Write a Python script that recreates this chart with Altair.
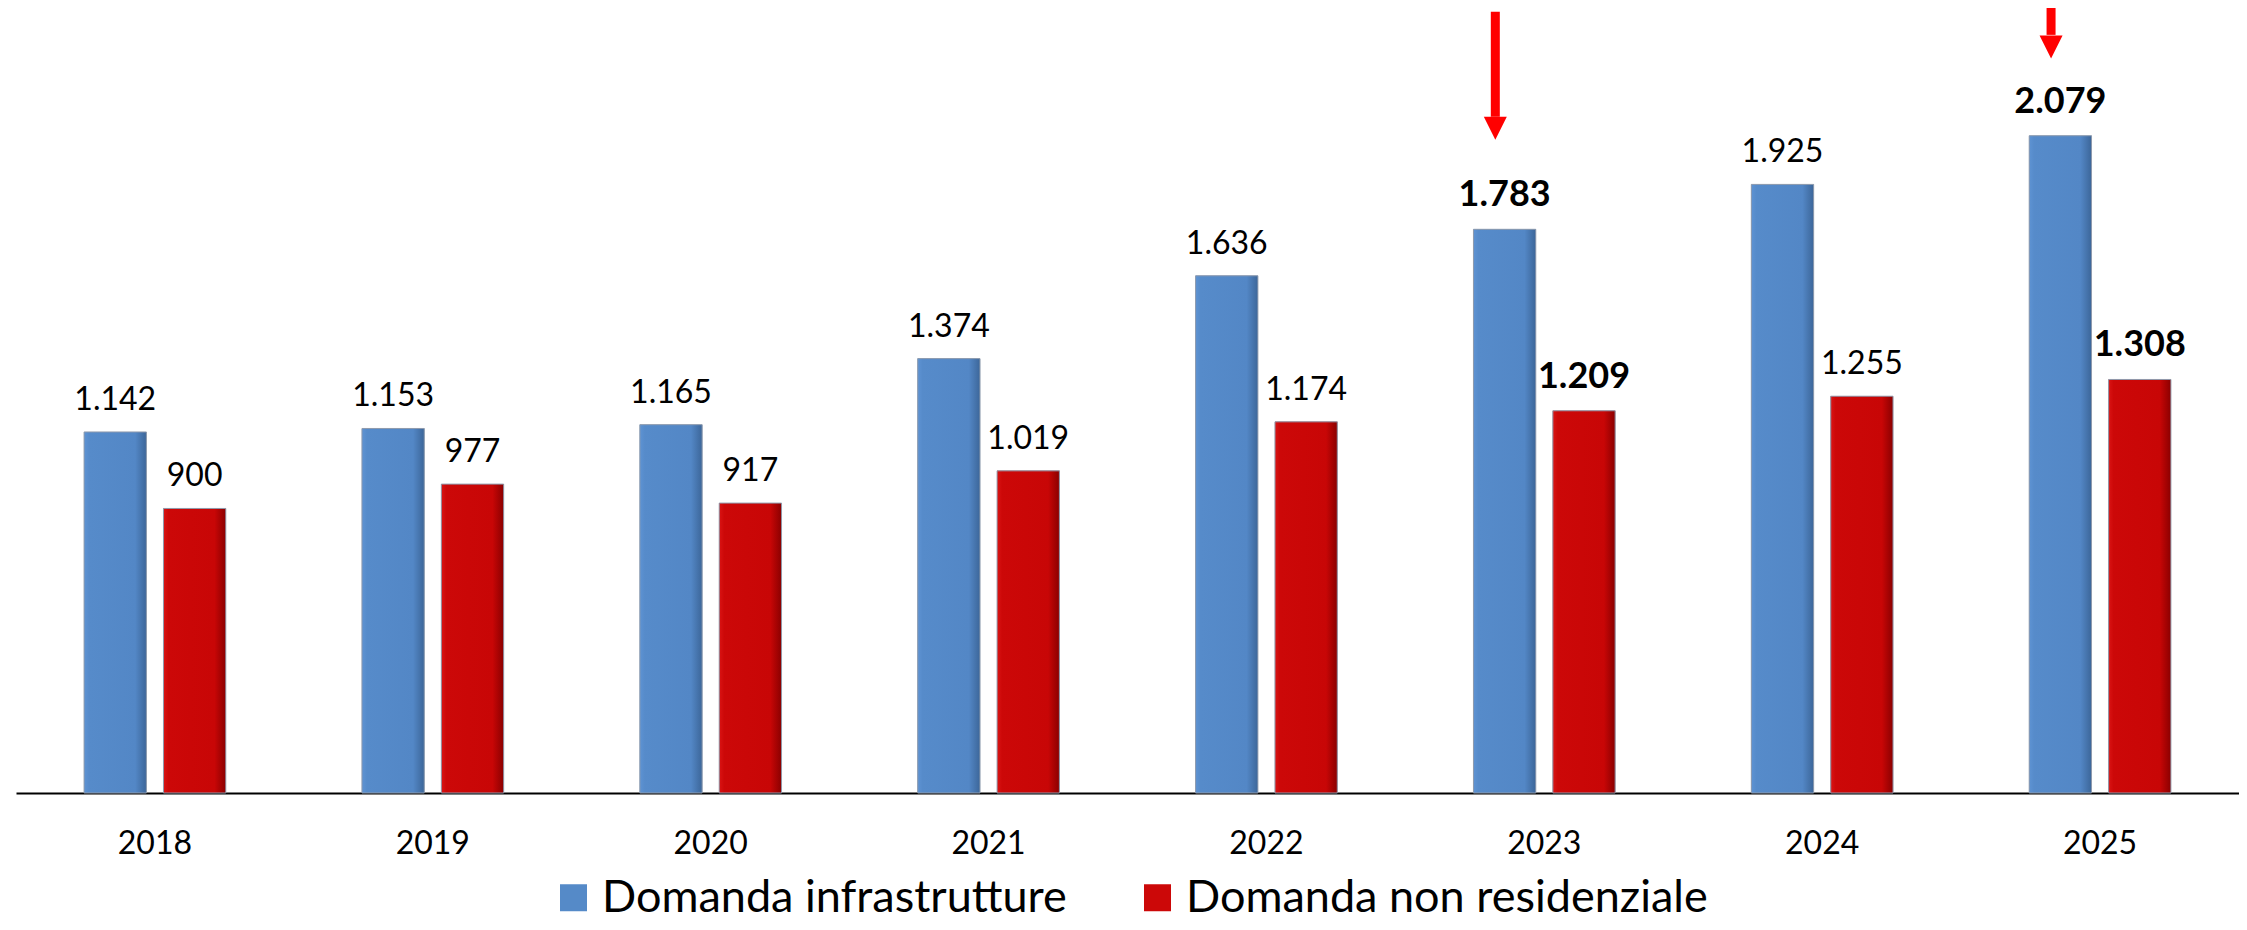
import altair as alt
import pandas as pd

years = ["2018", "2019", "2020", "2021", "2022", "2023", "2024", "2025"]
infra = [1142, 1153, 1165, 1374, 1636, 1783, 1925, 2079]
nonres = [900, 977, 917, 1019, 1174, 1209, 1255, 1308]
series = ["Domanda infrastrutture", "Domanda non residenziale"]
highlight_years = ["2023", "2025"]

arrow_years = ["2023", "2025"]
arrow_top = [2471, 2483]
arrow_head_top = [2139, 2398]
arrow_tip = [2066, 2322]

rows = []
for i, y in enumerate(years):
    rows.append({"year": y, "series": series[0], "value": infra[i], "bold": y in highlight_years})
    rows.append({"year": y, "series": series[1], "value": nonres[i], "bold": y in highlight_years})
df = pd.DataFrame(rows)

arrows = pd.DataFrame({"year": arrow_years, "top": arrow_top, "headtop": arrow_head_top, "tip": arrow_tip})

BLUE = "#558AC8"
RED = "#CC0808"
grad_blue = {"x1": 0, "y1": 0, "x2": 1, "y2": 0, "gradient": "linear",
             "stops": [{"offset": 0, "color": "#5E93D3"}, {"offset": 0.08, "color": "#568BCA"},
                       {"offset": 0.82, "color": "#5387C6"}, {"offset": 1, "color": "#3C6699"}]}
grad_red = {"x1": 0, "y1": 0, "x2": 1, "y2": 0, "gradient": "linear",
            "stops": [{"offset": 0, "color": "#DA1414"}, {"offset": 0.08, "color": "#CC0808"},
                      {"offset": 0.82, "color": "#C80606"}, {"offset": 1, "color": "#8A0000"}]}

FONT = "Lato"
xscale = alt.Scale(paddingInner=0.49, paddingOuter=0.245)
xaxis = alt.Axis(title=None, labelAngle=0, labelFont=FONT, labelFontSize=32, labelColor="black",
                 ticks=False, tickSize=0, labelPadding=35, domainColor="black", domainWidth=2)
X = alt.X("year:N", sort=years, scale=xscale, axis=xaxis)
yscale = alt.Scale(domain=[0, 2483], nice=False, zero=True)
XO = alt.XOffset("series:N", sort=series, scale=alt.Scale(paddingInner=0.215, paddingOuter=0))

base = alt.Chart(df).encode(
    x=X,
    xOffset=XO,
    y=alt.Y("value:Q", scale=yscale, axis=None),
)

bars = base.mark_bar().encode(
    color=alt.Color("series:N", sort=series, scale=alt.Scale(domain=series, range=[BLUE, RED]),
                    legend=alt.Legend(title=None, orient="none", legendX=535, legendY=867,
                                      direction="horizontal", symbolType="square", symbolSize=729,
                                      symbolStrokeWidth=0, labelFont=FONT, labelFontSize=45,
                                      labelColor="black", labelOffset=6, columnPadding=68,
                                      padding=0, labelLimit=1000))
)

overlay = base.mark_bar(stroke="#8F9BAD", strokeWidth=1).encode(
    fill=alt.condition(alt.datum.series == series[0], alt.value(grad_blue), alt.value(grad_red))
)

labels_normal = base.transform_filter("!datum.bold").transform_calculate(
    label="replace(format(datum.value, ','), ',', '.')"
).mark_text(font=FONT, fontSize=32, dy=-22, baseline="alphabetic", color="black").encode(text="label:N")

labels_bold = base.transform_filter("datum.bold").transform_calculate(
    label="replace(format(datum.value, ','), ',', '.')"
).mark_text(font=FONT, fontSize=36, fontWeight="bold", dy=-23, baseline="alphabetic", color="black").encode(text="label:N")

shaft = alt.Chart(arrows).mark_rule(color="#FF0000", strokeWidth=9, xOffset=-49, strokeCap="butt").encode(
    x=X,
    y=alt.Y("top:Q", scale=yscale, axis=None),
    y2="headtop:Q",
)

head = alt.Chart(arrows).transform_calculate(
    headmid="(datum.headtop + datum.tip) / 2"
).mark_point(shape="M-1,-1L1,-1L0,1Z", size=529, filled=True, color="#FF0000", opacity=1,
             strokeWidth=0, xOffset=-49).encode(
    x=X,
    y=alt.Y("headmid:Q", scale=yscale, axis=None),
)

chart = alt.layer(bars, overlay, labels_normal, labels_bold, shaft, head).properties(
    width=2223, height=785,
    autosize=alt.AutoSizeParams(type="none"),
    padding={"left": 8, "top": 0, "right": 0, "bottom": 129},
).configure_view(stroke=None)

chart.save("out.html", embed_options={"renderer": "svg", "actions": False})
